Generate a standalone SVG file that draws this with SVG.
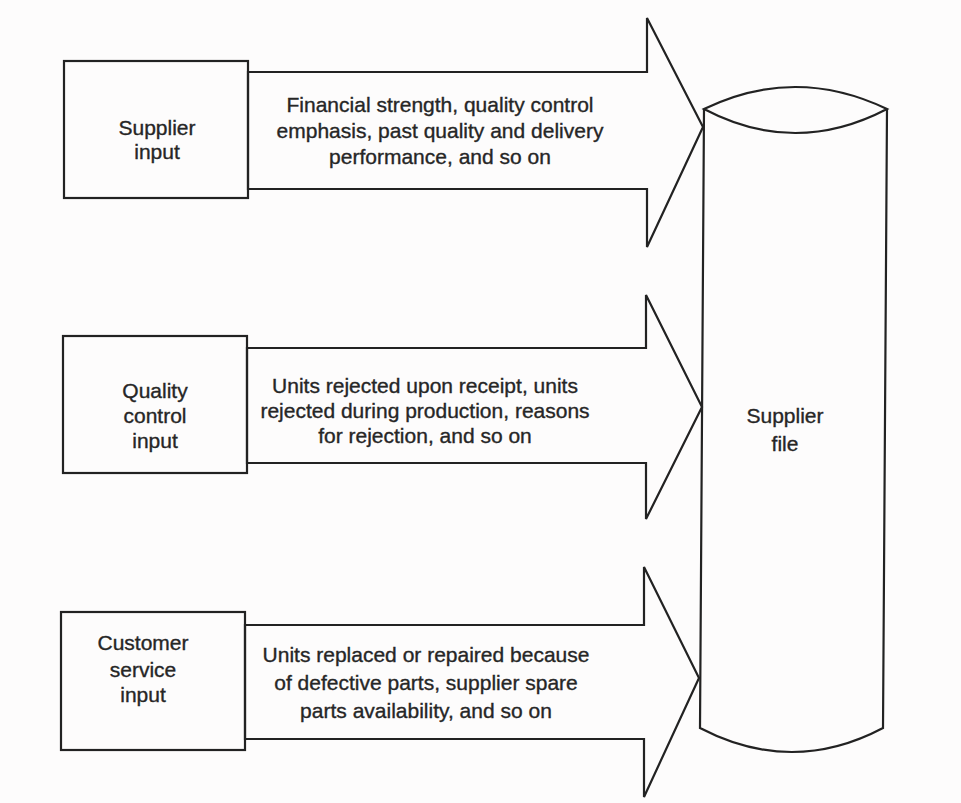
<svg xmlns="http://www.w3.org/2000/svg" width="961" height="803" viewBox="0 0 961 803">
  <style>
    .shape { fill: none; stroke: #222222; stroke-width: 2.2; stroke-linejoin: miter; }
    .label { font-family: "Liberation Sans", Arial, sans-serif; font-size: 21px; fill: #262626; stroke: #262626; stroke-width: 0.35; text-anchor: middle; }
  </style>
  <rect x="0" y="0" width="961" height="803" fill="#fdfcfc"/>

  <!-- Data flows into the supplier file -->
  <g id="connectors">
    <polygon class="shape" points="248,72 647,72 647,18 703,127 647,247 647,189 248,189"/>
    <polygon class="shape" points="247,348 646,348 646,295 702,407 646,519 646,463 247,463"/>
    <polygon class="shape" points="245,625 644,625 644,567 699,678 644,797 644,739 245,739"/>
    <text class="label"><tspan x="440" y="112">Financial strength, quality control</tspan><tspan x="440" y="138">emphasis, past quality and delivery</tspan><tspan x="440" y="164">performance, and so on</tspan></text>
    <text class="label"><tspan x="425" y="393">Units rejected upon receipt, units</tspan><tspan x="425" y="418">rejected during production, reasons</tspan><tspan x="425" y="443">for rejection, and so on</tspan></text>
    <text class="label"><tspan x="426" y="662">Units replaced or repaired because</tspan><tspan x="426" y="690">of defective parts, supplier spare</tspan><tspan x="426" y="718">parts availability, and so on</tspan></text>
  </g>

  <g id="supplier-input">
    <rect class="shape" x="64" y="61" width="184" height="137"/>
    <text class="label"><tspan x="157" y="135">Supplier</tspan><tspan x="157" y="159">input</tspan></text>
  </g>

  <g id="quality-control-input">
    <rect class="shape" x="63" y="336" width="184" height="137"/>
    <text class="label"><tspan x="155" y="398">Quality</tspan><tspan x="155" y="423">control</tspan><tspan x="155" y="448">input</tspan></text>
  </g>

  <g id="customer-service-input">
    <rect class="shape" x="61" y="612" width="184" height="138"/>
    <text class="label"><tspan x="143" y="650">Customer</tspan><tspan x="143" y="677">service</tspan><tspan x="143" y="702">input</tspan></text>
  </g>

  <!-- Storage cylinder -->
  <g id="supplier-file">
    <path class="shape" d="M704,109 Q795,65 887,109 Q795,157 704,109 Z"/>
    <path class="shape" d="M887,109 L883,728 Q792,776 700,728 L704,109"/>
    <text class="label"><tspan x="785" y="423">Supplier</tspan><tspan x="785" y="451">file</tspan></text>
  </g>
</svg>
